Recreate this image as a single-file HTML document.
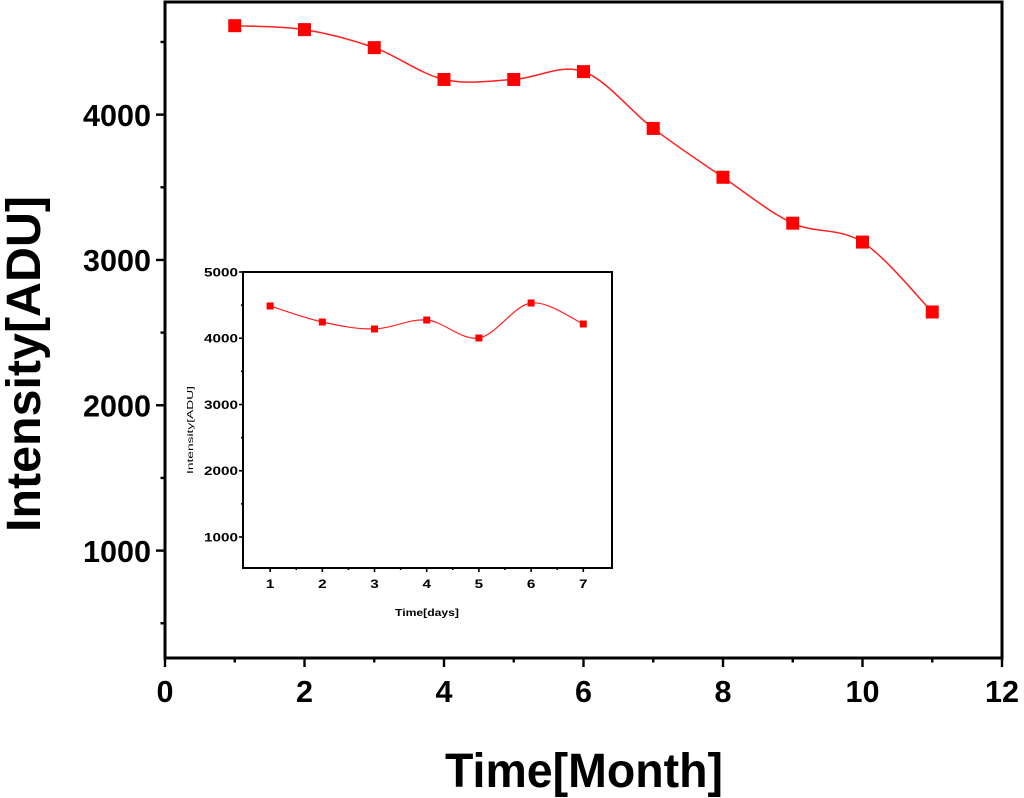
<!DOCTYPE html>
<html><head><meta charset="utf-8"><style>
html,body{margin:0;padding:0;background:#fff;}
svg{display:block;font-family:"Liberation Sans",Arial,sans-serif;font-weight:bold;}
</style></head><body>
<svg id="chart" width="1024" height="798" viewBox="0 0 1024 798" xmlns="http://www.w3.org/2000/svg">
<g id="main"></g>
<g id="inset"></g>
</svg>
<script>
const mainMonths = [1,2,3,4,5,6,7,8,9,10,11];
const mainIntensity = [4612,4585,4461,4242,4242,4296,3905,3569,3253,3123,2642];
const mainXTicks = [0,2,4,6,8,10,12];
const mainYTicks = [1000,2000,3000,4000];
const insetDays = [1,2,3,4,5,6,7];
const insetIntensity = [4487,4245,4140,4275,4004,4532,4215];
const insetXTicks = [1,2,3,4,5,6,7];
const insetYTicks = [1000,2000,3000,4000,5000];

const NS="http://www.w3.org/2000/svg";
function mk(parent,tag,attrs,text){const e=document.createElementNS(NS,tag);for(const k in attrs)e.setAttribute(k,attrs[k]);if(text!==undefined)e.textContent=text;parent.appendChild(e);return e;}
function spline(pts){let d=`M${pts[0][0]},${pts[0][1]}`;for(let i=0;i<pts.length-1;i++){const p0=pts[Math.max(0,i-1)],p1=pts[i],p2=pts[i+1],p3=pts[Math.min(pts.length-1,i+2)];const c1=[p1[0]+(p2[0]-p0[0])/6,p1[1]+(p2[1]-p0[1])/6],c2=[p2[0]-(p3[0]-p1[0])/6,p2[1]-(p3[1]-p1[1])/6];d+=` C${c1[0]},${c1[1]} ${c2[0]},${c2[1]} ${p2[0]},${p2[1]}`;}return d;}

function plot(g,cfg){
  const sx=v=>cfg.L+(v-cfg.x0)/(cfg.x1-cfg.x0)*(cfg.R-cfg.L);
  const sy=v=>cfg.B-(v-cfg.y0)/(cfg.y1-cfg.y0)*(cfg.B-cfg.T);
  const fr=mk(g,'rect',{x:cfg.L,y:cfg.T,width:cfg.R-cfg.L,height:cfg.B-cfg.T,fill:'none',stroke:'#000','stroke-width':cfg.sw});
  
  
  cfg.xt.forEach(v=>{
    const x=sx(v);
    const t=mk(g,'line',{x1:x,x2:x,y1:cfg.B,y2:cfg.B+cfg.tl,stroke:'#000','stroke-width':cfg.sw*0.8});
    
    
    const s=String(v);
    const l=mk(g,'text',{x:x,y:cfg.B+cfg.xlo,'font-size':cfg.fs,'text-anchor':'middle',textLength:cfg.ylw/4*s.length,lengthAdjust:'spacingAndGlyphs'},s);
    
    
  });
  cfg.xm.forEach(v=>{const x=sx(v);const t=mk(g,'line',{x1:x,x2:x,y1:cfg.B,y2:cfg.B+cfg.tl/2,stroke:'#000','stroke-width':cfg.sw*0.8});});
  cfg.yt.forEach(v=>{
    const y=sy(v);
    const t=mk(g,'line',{x1:cfg.L-cfg.tl,x2:cfg.L,y1:y,y2:y,stroke:'#000','stroke-width':cfg.sw*0.8});
    
    
    const l=mk(g,'text',{x:cfg.L-cfg.ylo,y:y+cfg.fs*0.36,'font-size':cfg.fs,'text-anchor':'end',textLength:cfg.ylw,lengthAdjust:'spacingAndGlyphs'},String(v));
    
    
  });
  cfg.ym.forEach(v=>{const y=sy(v);const t=mk(g,'line',{x1:cfg.L-cfg.tl/2,x2:cfg.L,y1:y,y2:y,stroke:'#000','stroke-width':cfg.sw*0.8});});
  const pts=cfg.xs.map((v,i)=>[sx(v),sy(cfg.ys[i])]);
  const c=mk(g,'path',{d:spline(pts),fill:'none',stroke:'#ff2020','stroke-width':cfg.lw});
  
  
  pts.forEach(p=>{const m=mk(g,'rect',{x:p[0]-cfg.ms/2,y:p[1]-cfg.ms/2,width:cfg.ms,height:cfg.ms,fill:'#ff0000'});});
}

plot(document.getElementById('main'),{L:165,R:1002,T:2,B:658,x0:0,x1:12,y0:261,y1:4775,sw:3,tl:9,fs:31,xlo:44,ylo:14,ylw:68,lw:1.5,ms:13,
  xt:mainXTicks,xm:[1,3,5,7,9,11],yt:mainYTicks,ym:[500,1500,2500,3500,4500],xs:mainMonths,ys:mainIntensity});
plot(document.getElementById('inset'),{L:243,R:612,T:272,B:568,x0:0.48,x1:7.55,y0:532,y1:5000,sw:2,tl:4,fs:12,xlo:20,ylo:5,ylw:34,lw:1.2,ms:7,
  xt:insetXTicks,xm:[1.5,2.5,3.5,4.5,5.5,6.5],yt:insetYTicks,ym:[1500,2500,3500,4500],xs:insetDays,ys:insetIntensity});
</script>
<svg style="position:absolute;left:0;top:0" width="1024" height="798" xmlns="http://www.w3.org/2000/svg" font-family="Liberation Sans, Arial, sans-serif" font-weight="bold">
<text x="584" y="787" font-size="48" text-anchor="middle" textLength="278" lengthAdjust="spacingAndGlyphs">Time[Month]</text>
<text transform="translate(40,364) rotate(-90)" font-size="48" text-anchor="middle" textLength="336" lengthAdjust="spacingAndGlyphs">Intensity[ADU]</text>
<text x="427" y="616" font-size="10" text-anchor="middle" textLength="64" lengthAdjust="spacingAndGlyphs">Time[days]</text>
<text transform="translate(193,430) rotate(-90)" font-size="8" font-weight="normal" text-anchor="middle" textLength="88" lengthAdjust="spacingAndGlyphs">Intensity[ADU]</text>
</svg>
</body></html>
